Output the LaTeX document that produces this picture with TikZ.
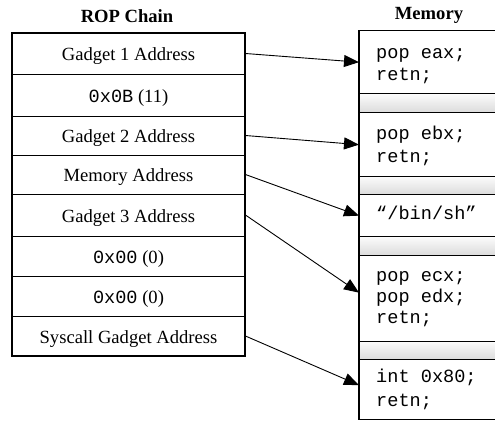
\documentclass[tikz,border=0pt]{standalone}
\usepackage{fontspec}
\setmainfont{Liberation Serif}
\setmonofont{Liberation Mono}
\usetikzlibrary{arrows.meta}
\begin{document}
\begin{tikzpicture}[x=1pt,y=-1pt,
  roprow/.style={draw, line width=0.9pt, minimum width=233pt, inner sep=0pt,
    font=\fontsize{18.6}{22}\selectfont, text height=14pt, text depth=0pt},
  memblk/.style={draw, line width=1.3pt, minimum width=160pt, inner sep=0pt, anchor=north west},
  gapblk/.style={memblk, top color=gray!3, bottom color=gray!28},
  code/.style={anchor=base west, inner sep=0pt, font=\fontsize{18.6}{22}\selectfont\ttfamily},
  title/.style={font=\fontsize{18.6}{22}\selectfont\bfseries, inner sep=0pt, anchor=base},
  link/.style={line width=0.9pt, -{Triangle[length=15pt,width=12pt]}}]
\useasboundingbox (0,0) rectangle (495,421);

% titles
\node[title] (t-rop) at (127,22) {ROP Chain};
\node[title] (t-mem) at (429,19) {Memory};

% ROP chain rows
\node[roprow, minimum height=41pt] (r1) at (128.5,53.5) {Gadget 1 Address};
\node[roprow, minimum height=42pt] (r2) at (128.5,95) {\texttt{0x0B} (11)};
\node[roprow, minimum height=39pt] (r3) at (128.5,135.5) {Gadget 2 Address};
\node[roprow, minimum height=39pt] (r4) at (128.5,174.5) {Memory Address};
\node[roprow, minimum height=42pt] (r5) at (128.5,215) {Gadget 3 Address};
\node[roprow, minimum height=40pt] (r6) at (128.5,256) {\texttt{0x00} (0)};
\node[roprow, minimum height=40pt] (r7) at (128.5,296) {\texttt{0x00} (0)};
\node[roprow, minimum height=40pt] (r8) at (128.5,336) {Syscall Gadget Address};
\draw[line width=2pt] (r1.north west) rectangle (r8.south east);

% memory blocks
\node[memblk, minimum height=63pt] (m1) at (359,30) {};
\node[gapblk, minimum height=19pt] (g1) at (359,93) {};
\node[memblk, minimum height=64pt] (m2) at (359,112) {};
\node[gapblk, minimum height=18pt] (g2) at (359,176) {};
\node[memblk, minimum height=42pt] (m3) at (359,194) {};
\node[gapblk, minimum height=19pt] (g3) at (359,236) {};
\node[memblk, minimum height=86pt] (m4) at (359,255) {};
\node[gapblk, minimum height=18pt] (g4) at (359,341) {};
\node[memblk, minimum height=60pt] (m5) at (359,359) {};
\draw[line width=2pt] (m1.north west) -- (m5.south west);

% code text
\node[code] (c1a) at (376,58) {pop eax;};
\node[code] (c1b) at (376,80) {retn;};
\node[code] (c2a) at (376,139) {pop ebx;};
\node[code] (c2b) at (376,162) {retn;};
\node[code] (c3a) at (376,219) {“/bin/sh”};
\node[code] (c4a) at (376,281) {pop ecx;};
\node[code] (c4b) at (376,302) {pop edx;};
\node[code] (c4c) at (376,323) {retn;};
\node[code] (c5a) at (376,382) {int 0x80;};
\node[code] (c5b) at (376,406) {retn;};

% connectors
\draw[link] (r1.east) -- (m1.west);
\draw[link] (r3.east) -- (m2.west);
\draw[link] (r4.east) -- (m3.west);
\draw[link] (r5.east) -- ([yshift=6pt]m4.west);
\draw[link] (r8.east) -- ([yshift=4.5pt]m5.west);
\end{tikzpicture}
\end{document}
